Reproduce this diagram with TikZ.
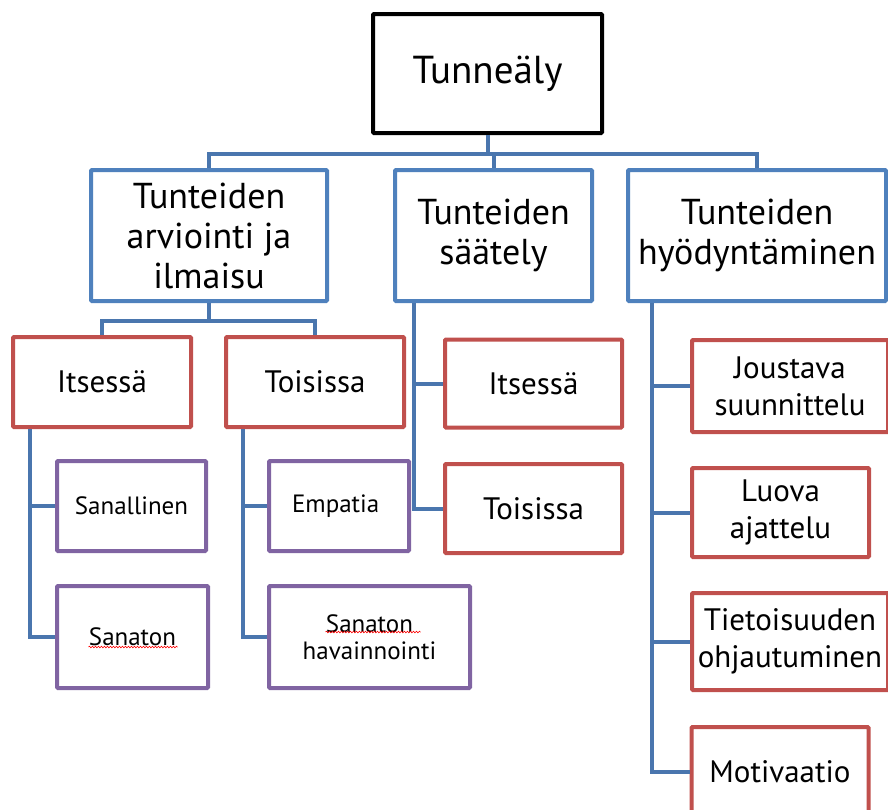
\documentclass[tikz,border=0pt]{standalone}
\usepackage{fontspec}
\setmainfont{PT Sans}
\usetikzlibrary{decorations.pathmorphing}
\definecolor{boxblue}{RGB}{79,129,189}
\definecolor{linkblue}{RGB}{74,118,174}
\definecolor{boxred}{RGB}{192,80,77}
\definecolor{boxpurple}{RGB}{128,100,162}
\tikzset{
  box/.style={draw,line width=4pt,fill=white,align=center,inner sep=2pt,rounded corners=1pt},
  rootbox/.style={box,draw=black,font=\fontsize{39}{44}\selectfont},
  bluebox/.style={box,draw=boxblue,font=\fontsize{36}{40}\selectfont},
  redbox/.style={box,draw=boxred,font=\fontsize{31}{37}\selectfont},
  purplebox/.style={box,draw=boxpurple,font=\fontsize{25}{27}\selectfont},
  link/.style={draw=linkblue,line width=4pt},
  squig/.style={draw=red,line width=0.6pt,decorate,decoration={snake,amplitude=0.8pt,segment length=3pt}}
}
\begin{document}
\begin{tikzpicture}[x=1pt,y=-1pt]
\useasboundingbox (0,0) rectangle (888,809);

%tasot: nimi/x/y/leveys/korkeus/tyyli/teksti
\foreach \n/\x/\y/\w/\h/\s/\t in
{ root/487.5/73.5/229/119/rootbox/{Tunneäly},
  arv/209/235.5/236/131/bluebox/{Tunteiden\\arviointi ja\\ilmaisu},
  saat/493.5/235.5/197/131/bluebox/{Tunteiden\\säätely},
  hyod/757/235.5/258/131/bluebox/{Tunteiden\\hyödyntäminen},
  its1/102/382/178/90/redbox/{Itsessä},
  toi1/315/382/178/90/redbox/{Toisissa},
  its2/533.5/383.5/177/88/redbox/{Itsessä},
  toi2/533.5/508.5/177/89/redbox/{Toisissa},
  jous/790/386/196/92/redbox/{Joustava\\suunnittelu},
  luova/780.5/512.5/177/89/redbox/{Luova\\ajattelu},
  tieto/790/641.5/196/97/redbox/{Tietoisuuden\\ohjautuminen},
  motiv/780/772/177/90/redbox/{Motivaatio},
  sanal/131.5/506/149/90/purplebox/{Sanallinen},
  sanat/132.5/637/151/102/purplebox/{Sanaton},
  sahav/369.5/637/201/102/purplebox/{Sanaton\\havainnointi},
  emp/339/506/140/90/purplebox/{Empatia}
}
{
  \node[\s,minimum width=\w,minimum height=\h] (\n) at (\x,\y) {\t};
};

%ylin taso
\draw[link] (root.south) -- ++(0,19) -| (arv.north);
\draw[link] (root.south) -- ++(0,19) -| (saat.north);
\draw[link] (root.south) -- ++(0,19) -| (hyod.north);

%arviointi ja ilmaisu
\draw[link] (arv.south) -- ++(0,18) -| (its1.north);
\draw[link] (arv.south) -- ++(0,18) -| (toi1.north);
\draw[link] ([xshift=19]its1.south west) |- (sanal.west);
\draw[link] ([xshift=19]its1.south west) |- (sanat.west);
\draw[link] ([xshift=19]toi1.south west) |- (emp.west);
\draw[link] ([xshift=19]toi1.south west) |- (sahav.west);

%säätely
\draw[link] ([xshift=21]saat.south west) |- (its2.west);
\draw[link] ([xshift=21]saat.south west) |- (toi2.west);

%hyödyntäminen
\foreach \v in {jous,luova,tieto,motiv}
  \draw[link] ([xshift=26]hyod.south west) |- (\v.west);

%oikoluvun alleviivaukset
\draw[squig] ([xshift=-44,yshift=-10]sanat.center) -- ++(89,0);
\draw[squig] ([xshift=-44,yshift=5]sahav.center) -- ++(95,0);
\end{tikzpicture}
\end{document}
